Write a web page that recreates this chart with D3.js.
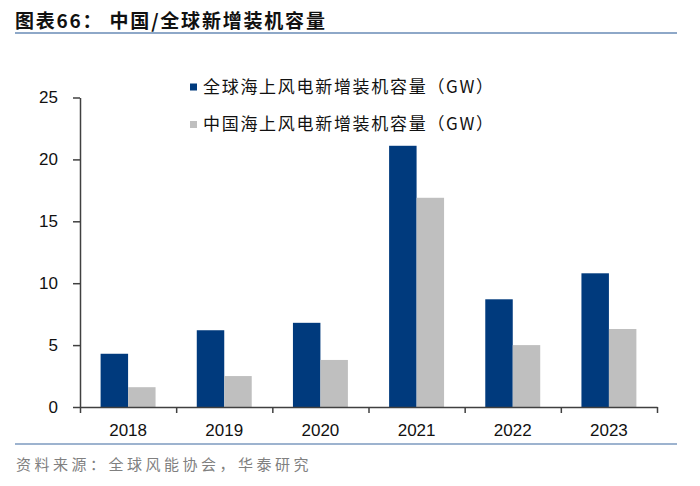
<!DOCTYPE html>
<html>
<head>
<meta charset="utf-8">
<script src="https://cdn.jsdelivr.net/npm/d3@7"></script>
<style>
  body { margin: 0; background: #fff; }
  svg text { font-family: "Liberation Sans", Arial, sans-serif; }
  .cjk { font-family: "Noto Sans CJK SC", sans-serif; }
</style>
</head>
<body>
<div id="chart"></div>
<script>
// chart data
const years = ['2018', '2019', '2020', '2021', '2022', '2023'];
const seriesNames = ['全球海上风电新增装机容量（GW）', '中国海上风电新增装机容量（GW）'];
const globalValues = [4.3, 6.2, 6.8, 21.1, 8.7, 10.8];
const chinaValues = [1.6, 2.5, 3.8, 16.9, 5.0, 6.3];
const yTicks = [0, 5, 10, 15, 20, 25];

const colors = ['#003A7D', '#BFBFBF'];
const width = 700, height = 486;
const margin = { top: 97.5, left: 80, right: 43, bottom: 79 };

const svg = d3.select('#chart').append('svg')
    .attr('width', width)
    .attr('height', height);

// title + rules
svg.append('text')
    .attr('class', 'cjk')
    .attr('x', 15)
    .attr('y', 28)
    .style('font-size', '19px')
    .style('font-weight', 'bold')
    .style('letter-spacing', '1.8px')
    .attr('fill', '#111')
    .text('图表66：  中国/全球新增装机容量');

svg.append('line')
    .attr('x1', 15).attr('x2', 677)
    .attr('y1', 33).attr('y2', 33)
    .attr('stroke', '#8EA8C8')
    .attr('stroke-width', 2);

svg.append('line')
    .attr('x1', 15).attr('x2', 677)
    .attr('y1', 444).attr('y2', 444)
    .attr('stroke', '#9DB3CF')
    .attr('stroke-width', 2);

svg.append('text')
    .attr('class', 'cjk')
    .attr('x', 16)
    .attr('y', 470)
    .style('font-size', '15px')
    .style('letter-spacing', '3.5px')
    .attr('fill', '#808080')
    .text('资料来源：全球风能协会，华泰研究');

const plotBottom = height - margin.bottom;
const plotRight = width - margin.right;

const x = d3.scaleBand()
    .domain(years)
    .range([margin.left, plotRight])
    .padding(0);

const xSub = d3.scaleBand()
    .domain([0, 1])
    .range([0, x.bandwidth()])
    .paddingInner(0)
    .paddingOuter(0.75);

const y = d3.scaleLinear()
    .domain([0, 25])
    .range([plotBottom, margin.top]);

// bars
const rows = years.map((yr, i) => ({ year: yr, values: [globalValues[i], chinaValues[i]] }));

const groups = svg.append('g').selectAll('g')
    .data(rows)
    .join('g')
    .attr('transform', d => `translate(${x(d.year)},0)`);

groups.selectAll('rect')
    .data(d => d.values.map((v, k) => ({ k, v })))
    .join('rect')
    .attr('x', d => xSub(d.k))
    .attr('width', xSub.bandwidth())
    .attr('y', d => y(d.v))
    .attr('height', d => y(0) - y(d.v))
    .attr('fill', d => colors[d.k]);

// y axis
const yAxisG = svg.append('g')
    .attr('transform', `translate(${margin.left},0)`)
    .call(d3.axisLeft(y).tickValues(yTicks).tickSize(7).tickSizeOuter(0).tickPadding(15));

// x axis labels
const xAxisG = svg.append('g')
    .attr('transform', `translate(0,${plotBottom})`)
    .call(d3.axisBottom(x).tickSize(0).tickPadding(17));

// x axis boundary ticks
const xEdge = d3.scaleLinear().domain([0, years.length]).range([margin.left, plotRight]);
const xEdgeG = svg.append('g')
    .attr('transform', `translate(0,${plotBottom})`)
    .call(d3.axisBottom(xEdge).ticks(years.length).tickSize(6).tickSizeOuter(0).tickFormat(''));

[yAxisG, xAxisG, xEdgeG].forEach(g => {
    g.select('.domain').attr('stroke', '#404040').attr('stroke-width', 1.5);
    g.selectAll('.tick line').attr('stroke', '#404040').attr('stroke-width', 1.5);
    g.selectAll('.tick text')
        .attr('fill', '#111')
        .style('font-size', '17px')
        .style('font-family', '"Liberation Sans", Arial, sans-serif');
});
xAxisG.select('.domain').remove();

// legend
const legend = svg.append('g')
    .attr('transform', 'translate(190,0)');

const legendRows = legend.selectAll('g')
    .data(seriesNames)
    .join('g')
    .attr('transform', (d, i) => `translate(0,${87 + i * 37.5})`);

legendRows.append('rect')
    .attr('x', 0)
    .attr('y', -3.5)
    .attr('width', 7)
    .attr('height', 7)
    .attr('fill', (d, i) => colors[i]);

legendRows.append('text')
    .attr('class', 'cjk')
    .attr('x', 13)
    .attr('dy', '0.35em')
    .style('font-size', '17px')
    .style('letter-spacing', '1.7px')
    .attr('fill', '#111')
    .text(d => d);
</script>
</body>
</html>
